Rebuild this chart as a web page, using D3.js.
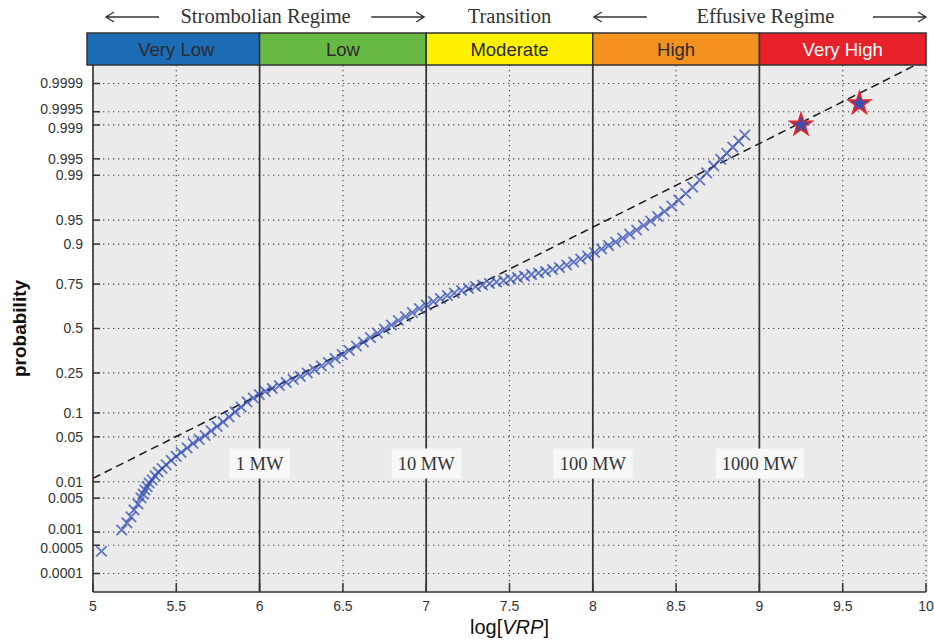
<!DOCTYPE html>
<html>
<head>
<meta charset="utf-8">
<script src="https://cdn.jsdelivr.net/npm/d3@7"></script>
<style>
  html, body { margin: 0; padding: 0; background: #fff; }
  svg { display: block; }
</style>
</head>
<body>
<svg id="chart" width="934" height="641"></svg>
<script>
// ---------------- DATA ----------------
const categories = ["Very Low", "Low", "Moderate", "High", "Very High"];
const categoryBounds = [5, 6, 7, 8, 9, 10];
const regimeLabels = ["Strombolian Regime", "Transition", "Effusive Regime"];
const regimeBounds = [[5, 7], [7, 8], [8, 10]];
const regimeArrows = [true, false, true];
const powerLabels = ["1 MW", "10 MW", "100 MW", "1000 MW"];
const powerAt = [6, 7, 8, 9];
const xTicks = [5, 5.5, 6, 6.5, 7, 7.5, 8, 8.5, 9, 9.5, 10];
const xTickLabels = ["5", "5.5", "6", "6.5", "7", "7.5", "8", "8.5", "9", "9.5", "10"];
const yTicks = [0.0001, 0.0005, 0.001, 0.005, 0.01, 0.05, 0.1, 0.25, 0.5, 0.75, 0.9, 0.95, 0.99, 0.995, 0.999, 0.9995, 0.9999];
const yTickLabels = ["0.0001", "0.0005", "0.001", "0.005", "0.01", "0.05", "0.1", "0.25", "0.5", "0.75", "0.9", "0.95", "0.99", "0.995", "0.999", "0.9995", "0.9999"];

const logVRP = [5.051, 5.172, 5.204, 5.228, 5.246, 5.270, 5.288, 5.300, 5.312, 5.325, 5.337, 5.355, 5.373, 5.391, 5.415, 5.439, 5.469, 5.499, 5.529, 5.565, 5.601, 5.637, 5.673, 5.709, 5.745, 5.781, 5.817, 5.853, 5.889, 5.925, 5.962, 5.998, 6.034, 6.076, 6.118, 6.160, 6.202, 6.244, 6.286, 6.329, 6.371, 6.413, 6.454, 6.496, 6.538, 6.581, 6.623, 6.665, 6.707, 6.749, 6.791, 6.833, 6.875, 6.917, 6.959, 7.001, 7.043, 7.085, 7.127, 7.169, 7.212, 7.254, 7.296, 7.338, 7.380, 7.422, 7.464, 7.506, 7.548, 7.590, 7.632, 7.674, 7.716, 7.758, 7.800, 7.843, 7.885, 7.927, 7.969, 8.011, 8.053, 8.095, 8.137, 8.179, 8.221, 8.263, 8.305, 8.347, 8.389, 8.431, 8.474, 8.516, 8.558, 8.600, 8.642, 8.684, 8.726, 8.768, 8.804, 8.840, 8.876, 8.912];
const probability = [0.00036, 0.00111, 0.00158, 0.00212, 0.00294, 0.00387, 0.00506, 0.0060, 0.0071, 0.0082, 0.0095, 0.0108, 0.0126, 0.0147, 0.0168, 0.0192, 0.0226, 0.0261, 0.0299, 0.0349, 0.0405, 0.0461, 0.0522, 0.060, 0.0685, 0.078, 0.0897, 0.1026, 0.1168, 0.1324, 0.1458, 0.1583, 0.1696, 0.1814, 0.1935, 0.2064, 0.2195, 0.2333, 0.2498, 0.2670, 0.2847, 0.3029, 0.3245, 0.3465, 0.3692, 0.3952, 0.4188, 0.4455, 0.4729, 0.4970, 0.5211, 0.5482, 0.5722, 0.5960, 0.6191, 0.6393, 0.6591, 0.6755, 0.6918, 0.7050, 0.7180, 0.7281, 0.7380, 0.7454, 0.7527, 0.7598, 0.7667, 0.7737, 0.7805, 0.7872, 0.7936, 0.8001, 0.8065, 0.8147, 0.8227, 0.8325, 0.8436, 0.8543, 0.8643, 0.8756, 0.8862, 0.8960, 0.9054, 0.9151, 0.9242, 0.9325, 0.9410, 0.9486, 0.9554, 0.9621, 0.9685, 0.9744, 0.9798, 0.9841, 0.9879, 0.9909, 0.9932, 0.9949, 0.9961, 0.99706, 0.99778, 0.99834];

// highlighted events (stars)
const starLogVRP = [9.25, 9.60];
const starProbability = [0.9990, 0.99968];

// normal reference fit (dashed line)
const fitMean = 6.79;
const fitSigma = 0.787;

// ---------------- STYLE ----------------
const bandColors = ["#1b6cb5", "#68b944", "#fff200", "#f4921f", "#e8202a"];
const bandTextColors = ["#2b2b2b", "#2b2b2b", "#2b2b2b", "#2b2b2b", "#ffffff"];
// small vertical nudges for crowded tick labels (pixels)
const yLabelNudge = {"0.9995": -3, "0.999": 3, "0.001": -3, "0.0005": 3};

// inverse normal CDF (Acklam)
function probit(p) {
  const a = [-3.969683028665376e+01, 2.209460984245205e+02, -2.759285104469687e+02, 1.383577518672690e+02, -3.066479806614716e+01, 2.506628277459239e+00];
  const b = [-5.447609879822406e+01, 1.615858368580409e+02, -1.556989798598866e+02, 6.680131188771972e+01, -1.328068155288572e+01];
  const c = [-7.784894002430293e-03, -3.223964580411365e-01, -2.400758277161838e+00, -2.549732539343734e+00, 4.374664141464968e+00, 2.938163982698783e+00];
  const d = [7.784695709041462e-03, 3.224671290700398e-01, 2.445134137142996e+00, 3.754408661907416e+00];
  const pl = 0.02425, ph = 1 - pl;
  let q, r;
  if (p < pl) {
    q = Math.sqrt(-2 * Math.log(p));
    return (((((c[0]*q+c[1])*q+c[2])*q+c[3])*q+c[4])*q+c[5]) / ((((d[0]*q+d[1])*q+d[2])*q+d[3])*q+1);
  } else if (p <= ph) {
    q = p - 0.5; r = q * q;
    return (((((a[0]*r+a[1])*r+a[2])*r+a[3])*r+a[4])*r+a[5])*q / (((((b[0]*r+b[1])*r+b[2])*r+b[3])*r+b[4])*r+1);
  } else {
    q = Math.sqrt(-2 * Math.log(1 - p));
    return -(((((c[0]*q+c[1])*q+c[2])*q+c[3])*q+c[4])*q+c[5]) / ((((d[0]*q+d[1])*q+d[2])*q+d[3])*q+1);
  }
}

const svg = d3.select("#chart");
const pL = 93, pR = 926, pT = 65, pB = 592, headTop = 33;

const x = d3.scaleLinear().domain([5, 10]).range([pL, pR]);
const zScale = d3.scaleLinear().domain([-4, 4]).range([pB, pT]);
const y = p => zScale(probit(p));

// plot background
svg.append("rect").attr("x", pL).attr("y", pT).attr("width", pR - pL + 2).attr("height", pB - pT)
  .attr("fill", "#ebebeb");

svg.append("defs").append("clipPath").attr("id", "plotclip")
  .append("rect").attr("x", pL).attr("y", pT).attr("width", pR - pL + 2).attr("height", pB - pT);

// dotted grid
const grid = svg.append("g").attr("stroke", "#4a4a4a").attr("stroke-width", 1.2)
  .attr("stroke-dasharray", "1.3,3.7").attr("fill", "none");
yTicks.forEach(p => {
  grid.append("line").attr("x1", pL).attr("x2", pR).attr("y1", y(p)).attr("y2", y(p));
});
xTicks.forEach(v => {
  grid.append("line").attr("x1", x(v)).attr("x2", x(v)).attr("y1", pT).attr("y2", pB);
});

// solid category boundaries
categoryBounds.slice(1, -1).forEach(v => {
  svg.append("line").attr("x1", x(v)).attr("x2", x(v)).attr("y1", pT).attr("y2", pB)
    .attr("stroke", "#333").attr("stroke-width", 1.7);
});

// power labels
const labelZ = -2.05;
powerLabels.forEach((t, i) => {
  const g = svg.append("g").attr("transform", `translate(${x(powerAt[i])},${zScale(labelZ)})`);
  const txt = g.append("text").attr("text-anchor", "middle").attr("dy", "0.35em")
    .attr("font-family", "'Liberation Serif', 'DejaVu Serif', serif").attr("font-size", 18.5)
    .attr("fill", "#333").text(t);
  const bb = txt.node().getBBox();
  g.insert("rect", "text").attr("x", bb.x - 6).attr("y", -15).attr("width", bb.width + 12).attr("height", 30)
    .attr("fill", "#f8f8f8");
});

// dashed normal reference line
const fitXs = [5, 10];
svg.append("path").attr("clip-path", "url(#plotclip)")
  .attr("d", d3.line().x(v => x(v)).y(v => zScale((v - fitMean) / fitSigma))(fitXs))
  .attr("fill", "none").attr("stroke", "#1a1a1a").attr("stroke-width", 1.5).attr("stroke-dasharray", "8,5");

// markers
const ms = 5.2;
const marks = svg.append("g").attr("stroke", "#2c48b4").attr("stroke-width", 1.8).attr("stroke-opacity", 0.72).attr("fill", "none");
logVRP.forEach((v, i) => {
  const cx = x(v), cy = y(probability[i]);
  marks.append("path").attr("d", `M${cx - ms},${cy - ms}L${cx + ms},${cy + ms}M${cx - ms},${cy + ms}L${cx + ms},${cy - ms}`);
});

// stars
starLogVRP.forEach((v, i) => {
  const g = svg.append("g").attr("transform", `translate(${x(v)},${y(starProbability[i])})`);
  g.append("path").attr("d", d3.symbol(d3.symbolStar, 230)()).attr("fill", "#e5252a");
  g.append("path").attr("d", d3.symbol(d3.symbolStar, 90)()).attr("fill", "#3b4fb0");
});

// axes lines
svg.append("line").attr("x1", pL).attr("x2", pL).attr("y1", pT).attr("y2", pB).attr("stroke", "#333").attr("stroke-width", 1.6);
svg.append("line").attr("x1", pL).attr("x2", pR).attr("y1", pB).attr("y2", pB).attr("stroke", "#333").attr("stroke-width", 1.6);

// y ticks
const yAxis = svg.append("g");
yTicks.forEach((p, i) => {
  yAxis.append("line").attr("x1", pL).attr("x2", pL + 7).attr("y1", y(p)).attr("y2", y(p)).attr("stroke", "#333").attr("stroke-width", 1.5);
  yAxis.append("text").attr("x", pL - 10).attr("y", y(p) + (yLabelNudge[yTickLabels[i]] || 0)).attr("dy", "0.35em").attr("text-anchor", "end")
    .attr("font-family", "'Liberation Sans', Arial, sans-serif").attr("font-size", 14).attr("fill", "#333").text(yTickLabels[i]);
});
// x ticks
const xAxis = svg.append("g");
xTicks.forEach((v, i) => {
  xAxis.append("line").attr("x1", x(v)).attr("x2", x(v)).attr("y1", pB).attr("y2", pB - 9).attr("stroke", "#333").attr("stroke-width", 1.5);
  xAxis.append("text").attr("x", x(v)).attr("y", pB + 19).attr("text-anchor", "middle")
    .attr("font-family", "'Liberation Sans', Arial, sans-serif").attr("font-size", 14).attr("fill", "#333").text(xTickLabels[i]);
});

// axis titles
svg.append("text").attr("transform", `translate(26,${zScale(0)}) rotate(-90)`).attr("text-anchor", "middle")
  .attr("font-family", "'Liberation Sans', Arial, sans-serif").attr("font-size", 19).attr("font-weight", "bold")
  .attr("fill", "#111").text("probability");
const xt = svg.append("text").attr("x", (pL + pR) / 2).attr("y", 634).attr("text-anchor", "middle")
  .attr("font-family", "'Liberation Sans', Arial, sans-serif").attr("font-size", 20).attr("fill", "#111");
xt.append("tspan").text("log[");
xt.append("tspan").attr("font-style", "italic").text("VRP");
xt.append("tspan").text("]");

// header category band
const headH = pT - headTop;
categories.forEach((c, i) => {
  const x0 = i === 0 ? pL - 6 : x(categoryBounds[i]);
  const x1 = x(categoryBounds[i + 1]);
  svg.append("rect").attr("x", x0).attr("y", headTop).attr("width", x1 - x0).attr("height", headH)
    .attr("fill", bandColors[i]).attr("stroke", "#333").attr("stroke-width", 1.5);
  svg.append("text").attr("x", (x(categoryBounds[i]) + x1) / 2).attr("y", headTop + headH / 2).attr("dy", "0.36em")
    .attr("text-anchor", "middle").attr("font-family", "'Liberation Sans', Arial, sans-serif").attr("font-size", 18.5)
    .attr("fill", bandTextColors[i]).text(c);
});

// regime labels with arrows
const arrowLen = 53;
function arrow(xa, xb, yy) {
  const dir = Math.sign(xb - xa);
  svg.append("path").attr("d", `M${xa},${yy}L${xb},${yy}M${xb - dir * 8},${yy - 5}L${xb},${yy}L${xb - dir * 8},${yy + 5}`)
    .attr("fill", "none").attr("stroke", "#333").attr("stroke-width", 1.3);
}
regimeLabels.forEach((t, i) => {
  const [a, b] = regimeBounds[i];
  const cx = (x(a) + x(b)) / 2 + (regimeArrows[i] ? 6 : 0);
  svg.append("text").attr("x", cx).attr("y", 23).attr("text-anchor", "middle")
    .attr("font-family", "'Liberation Serif', 'DejaVu Serif', serif").attr("font-size", 20.5)
    .attr("fill", "#333").text(t);
  if (regimeArrows[i]) {
    const x0 = x(a) + (i === 0 ? 13 : 1), x1 = x(b) - (i === 0 ? 2 : 0);
    arrow(x0 + arrowLen, x0, 17);
    arrow(x1 - arrowLen, x1, 17);
  }
});
</script>
</body>
</html>
